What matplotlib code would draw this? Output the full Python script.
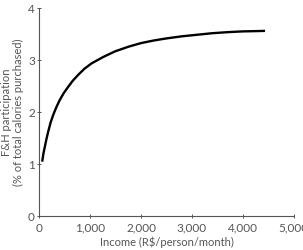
import matplotlib
matplotlib.use("Agg")
import matplotlib.pyplot as plt

# values
income = [55, 80, 108, 140, 174, 220, 272, 335, 403, 480, 567, 660, 764, 890, 1027,
          1250, 1486, 1750, 2000, 2250, 2500, 2800, 3100, 3400, 3700, 4000, 4250, 4439]
fh_share = [1.05, 1.21, 1.34, 1.49, 1.63, 1.80, 1.95, 2.10, 2.24, 2.37, 2.49, 2.61, 2.72,
            2.84, 2.94, 3.06, 3.17, 3.26, 3.33, 3.38, 3.42, 3.46, 3.49, 3.52, 3.54, 3.555,
            3.56, 3.565]

x_ticks = [0, 1000, 2000, 3000, 4000, 5000]
y_ticks = [0, 1, 2, 3, 4]

plt.rcParams["font.family"] = ["Lato", "DejaVu Sans"]
grey = "#555555"

fig = plt.figure(figsize=(3.03, 2.5), dpi=100)
ax = fig.add_axes([0.130, 0.135, 0.839, 0.832])

ax.plot(income, fh_share, color="black", lw=1.7, solid_capstyle="butt")

ax.set_xlim(0, 5000)
ax.set_ylim(0, 4)
ax.set_xticks(x_ticks)
ax.set_xticklabels([f"{v:,}" for v in x_ticks])
ax.set_yticks(y_ticks)

for s in ["top", "right"]:
    ax.spines[s].set_visible(False)
for s in ["left", "bottom"]:
    ax.spines[s].set_color(grey)
    ax.spines[s].set_linewidth(0.8)

ax.tick_params(colors=grey, labelsize=8.5, length=2.5, width=0.7, direction="inout")
ax.tick_params(axis="x", pad=3.5)
ax.tick_params(axis="y", pad=2)
ax.set_xlabel("Income (R$/person/month)", color=grey, fontsize=8, labelpad=2)
ax.set_ylabel("F&H participation\n(% of total calories purchased)", color=grey,
              fontsize=8, labelpad=3, linespacing=1.05)

fig.savefig("out.png", dpi=100)
